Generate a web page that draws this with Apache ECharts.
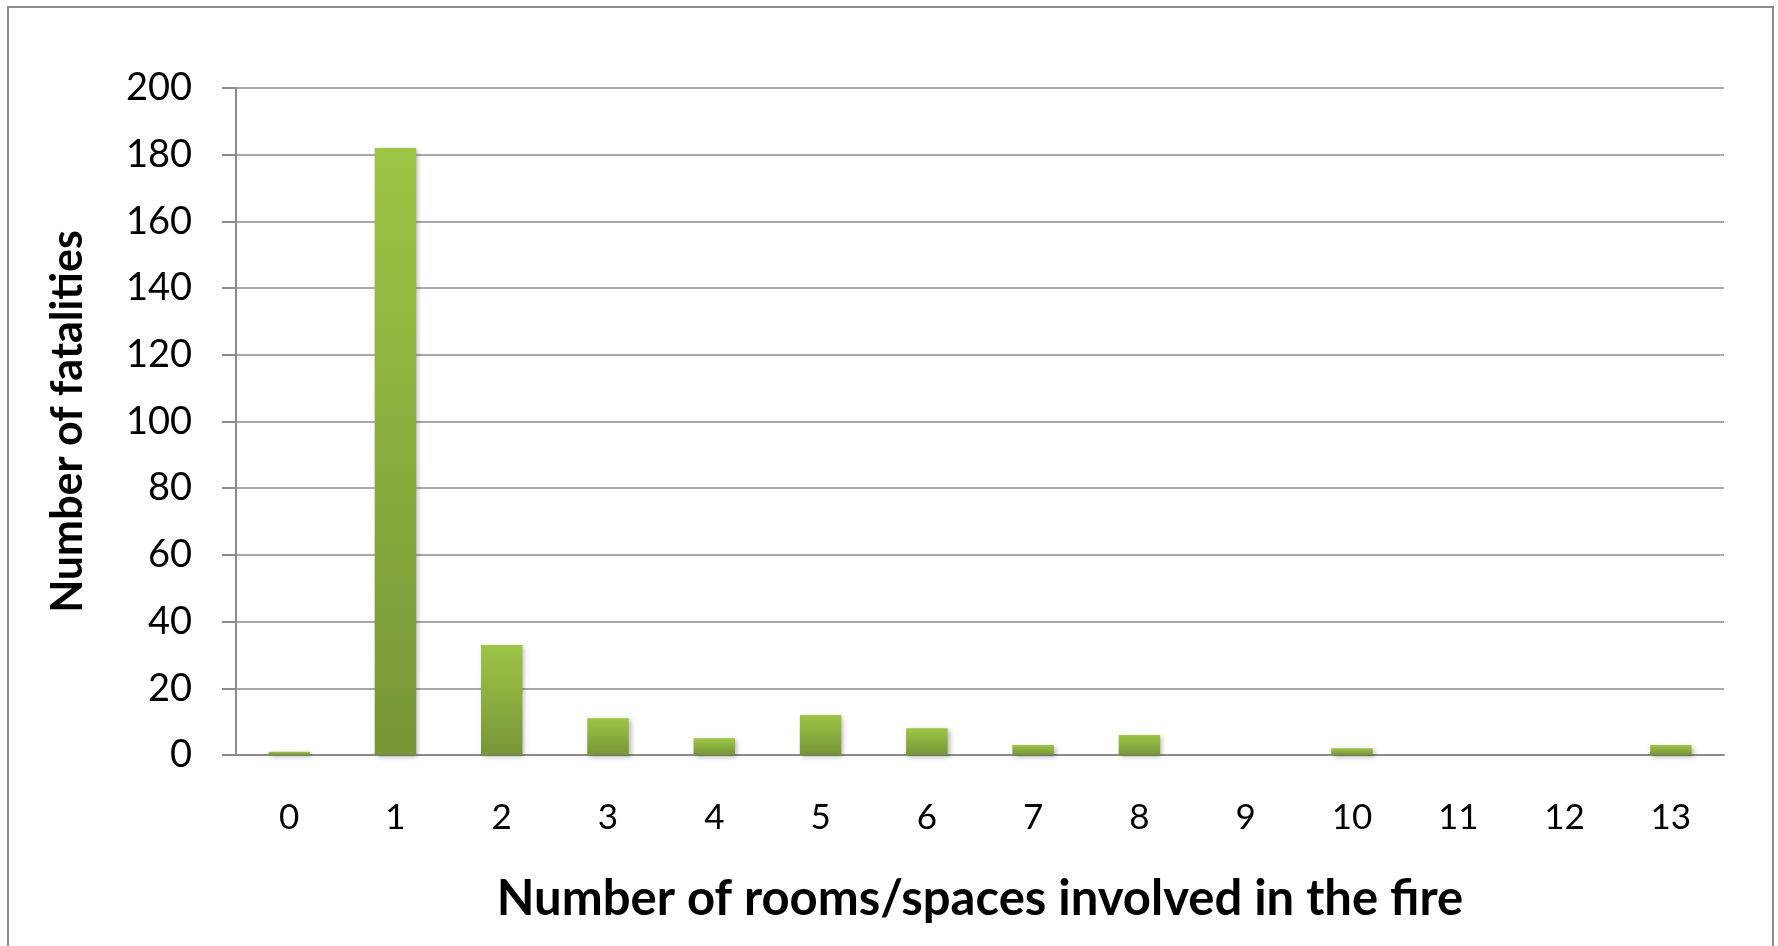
<!DOCTYPE html>
<html>
<head>
<meta charset="utf-8">
<script src="https://cdn.jsdelivr.net/npm/echarts@6/dist/echarts.min.js"></script>
<style>
  html, body { margin: 0; padding: 0; background: #fff; }
  #chart { width: 1778px; height: 946px; }
</style>
</head>
<body>
<div id="chart"></div>
<script>
// rooms/spaces involved
const rooms = ['0', '1', '2', '3', '4', '5', '6', '7', '8', '9', '10', '11', '12', '13']
// fatalities per category
const fatalities = [1, 182, 33, 11, 5, 12, 8, 3, 6, 0, 2, 0, 0, 3]

const myChart = echarts.init(document.getElementById('chart'))

const option = {
  animation: false,
  backgroundColor: '#fff',
  graphic: [
    {
      type: 'rect',
      shape: { x: 8, y: 7, width: 1765, height: 960 },
      style: { fill: 'none', stroke: '#8c8c8c', lineWidth: 2 },
      z: -1
    }
  ],
  grid: {
    left: 236,
    right: 54,
    top: 88,
    bottom: 191
  },
  xAxis: {
    type: 'category',
    data: rooms,
    name: 'Number of rooms/spaces involved in the fire',
    nameLocation: 'middle',
    nameGap: 120,
    nameTextStyle: {
      fontFamily: 'Lato',
      fontWeight: 'bold',
      fontSize: 49,
      color: '#000'
    },
    axisLine: { lineStyle: { color: '#8c8c8c', width: 2 } },
    axisTick: { show: false },
    axisLabel: {
      margin: 45,
      fontFamily: 'Lato',
      fontSize: 35,
      color: '#000'
    }
  },
  yAxis: {
    type: 'value',
    min: 0,
    max: 200,
    interval: 20,
    name: 'Number of fatalities',
    nameLocation: 'middle',
    nameGap: 146,
    nameRotate: 90,
    nameTextStyle: {
      fontFamily: 'Lato',
      fontWeight: 'bold',
      fontSize: 43,
      color: '#000'
    },
    axisLine: { show: true, lineStyle: { color: '#8c8c8c', width: 2 } },
    axisTick: { show: true, length: 14, inside: false, lineStyle: { color: '#8c8c8c', width: 2 } },
    splitLine: { lineStyle: { color: '#8c8c8c', width: 1.5 } },
    axisLabel: {
      margin: 44,
      fontFamily: 'Lato',
      fontSize: 38,
      color: '#000'
    }
  },
  series: [
    {
      name: 'fatalities',
      type: 'bar',
      data: fatalities,
      barWidth: '39%',
      itemStyle: {
        color: new echarts.graphic.LinearGradient(0, 0, 0, 1, [
          { offset: 0, color: '#9dc545' },
          { offset: 1, color: '#769637' }
        ]),
        shadowColor: 'rgba(0,0,0,0.3)',
        shadowBlur: 5,
        shadowOffsetX: 2,
        shadowOffsetY: 2
      }
    }
  ]
}

myChart.setOption(option)
</script>
</body>
</html>
